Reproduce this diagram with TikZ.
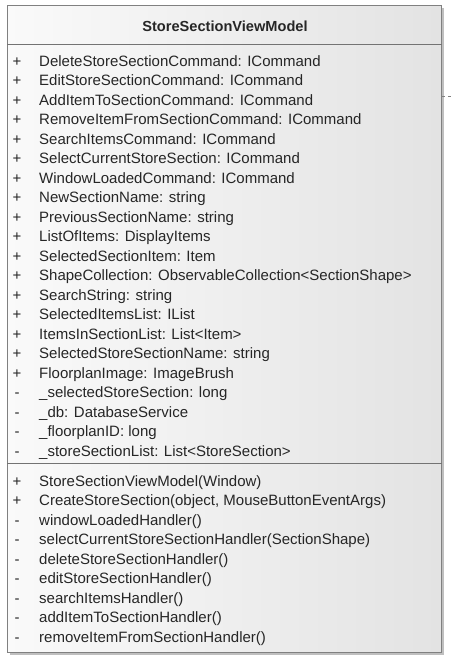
\documentclass[tikz,border=0pt]{standalone}
\usepackage{fontspec}
\setmainfont{Liberation Sans}
\usetikzlibrary{shadows}
\begin{document}
\begin{tikzpicture}[x=1pt,y=-1pt,
  classbox/.style={draw=black!50, line width=0.8pt, left color=black!2, right color=black!11,
    drop shadow={shadow xshift=3pt, shadow yshift=-3pt, fill=black!25, opacity=1}},
  vis/.style={anchor=base, inner sep=0pt, text=black!85, font=\fontsize{15}{18}\selectfont},
  member/.style={anchor=base west, inner sep=0pt, text=black!85, font=\fontsize{15}{18}\selectfont},
  sep/.style={draw=black!55, line width=0.8pt}]
  \useasboundingbox (0,0) rectangle (451,664);
  \node[classbox, anchor=north west, inner sep=0pt, minimum width=434pt, minimum height=647pt] (cls) at (7,5) {};
  \node[anchor=base, inner sep=0pt, text=black!85, font=\bfseries\fontsize{14.6}{18}\selectfont] (title) at (225,31) {StoreSectionViewModel};
  % compartments
  \coordinate (sepA) at (0,44);
  \coordinate (sepB) at (0,463);
  \draw[sep] (cls.west |- sepA) -- (cls.east |- sepA);
  \draw[sep] (cls.west |- sepB) -- (cls.east |- sepB);
  % attributes
  \foreach \v/\t [count=\i from 0] in {
    +/DeleteStoreSectionCommand: ICommand,
    +/EditStoreSectionCommand: ICommand,
    +/AddItemToSectionCommand: ICommand,
    +/RemoveItemFromSectionCommand: ICommand,
    +/SearchItemsCommand: ICommand,
    +/SelectCurrentStoreSection: ICommand,
    +/WindowLoadedCommand: ICommand,
    +/NewSectionName: string,
    +/PreviousSectionName: string,
    +/ListOfItems: DisplayItems,
    +/SelectedSectionItem: Item,
    +/ShapeCollection: ObservableCollection<SectionShape>,
    +/SearchString: string,
    +/SelectedItemsList: IList,
    +/ItemsInSectionList: List<Item>,
    +/SelectedStoreSectionName: string,
    +/FloorplanImage: ImageBrush,
    -/\_selectedStoreSection: long,
    -/\_db: DatabaseService,
    -/\_floorplanID: long,
    -/\_storeSectionList: List<StoreSection>} {
    \node[vis] (attrvis\i) at (17,66+19.5*\i) {\v};
    \node[member] (attr\i) at (39,66+19.5*\i) {\t};
  }
  % operations
  \foreach \v/\t [count=\i from 0] in {
    +/StoreSectionViewModel(Window),
    +/{CreateStoreSection(object, MouseButtonEventArgs)},
    -/windowLoadedHandler(),
    -/selectCurrentStoreSectionHandler(SectionShape),
    -/deleteStoreSectionHandler(),
    -/editStoreSectionHandler(),
    -/searchItemsHandler(),
    -/addItemToSectionHandler(),
    -/removeItemFromSectionHandler()} {
    \node[vis] (opvis\i) at (17,486+19.5*\i) {\v};
    \node[member] (op\i) at (39,486+19.5*\i) {\t};
  }
  % link leaving the picture
  \coordinate (cut) at (451,96);
  \draw[dashed, draw=black!50, line width=0.6pt] (cls.east |- cut) -- (cut);
\end{tikzpicture}
\end{document}
